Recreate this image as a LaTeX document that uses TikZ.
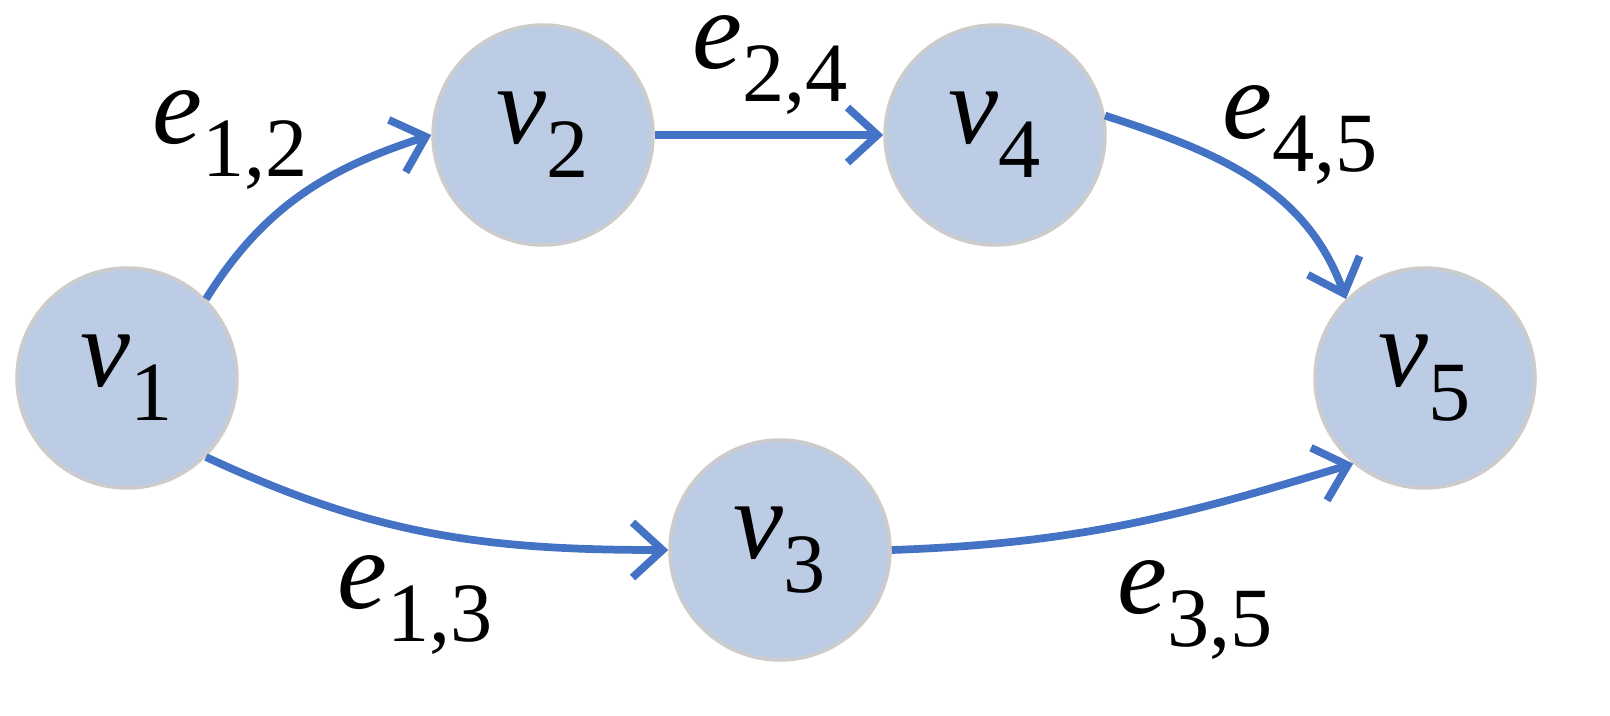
\documentclass[tikz,border=0pt]{standalone}
\usepackage{fontspec}
\setmainfont{Liberation Serif}
\usetikzlibrary{arrows.meta}
\definecolor{vfill}{RGB}{189,204,229}
\definecolor{vedge}{RGB}{68,114,196}
\newcommand\lbl[2]{\fontsize{32}{36}\selectfont\textit{#1}\raisebox{-0.3em}{\fontsize{24}{28}\selectfont #2}}
\begin{document}
\begin{tikzpicture}[vert/.style={draw=black!20,line width=1pt,fill=vfill,circle,minimum size=2.2cm,inner sep=0},
  arc/.style={draw=vedge,line width=2.2pt,-{Straight Barb[length=3mm,width=5.5mm]}},
  every node/.style={inner sep=0}]
\useasboundingbox (0,0) rectangle (16.1,7.15);
\node[vert] (v1) at (1.27,3.37) {\lbl{v}{1}};
\node[vert] (v2) at (5.43,5.80) {\lbl{v}{2}};
\node[vert] (v4) at (9.95,5.80) {\lbl{v}{4}};
\node[vert] (v5) at (14.25,3.37) {\lbl{v}{5}};
\node[vert] (v3) at (7.80,1.65) {\lbl{v}{3}};

\draw[arc] (v1.45) to[out=58,in=198] (v2.west);
\draw[arc] (v2.east) -- (v4.west);
\draw[arc] (v4.10) to[out=-18,in=110] (v5.135);
\draw[arc] (v1.-45) to[out=-25,in=180] (v3.west);
\draw[arc] (v3.east) to[out=2,in=197] (v5.230);

\node (e12) at (2.30,5.75) {\lbl{e}{1,2}};
\node (e24) at (7.70,6.50) {\lbl{e}{2,4}};
\node (e45) at (13.00,5.80) {\lbl{e}{4,5}};
\node (e13) at (4.15,1.10) {\lbl{e}{1,3}};
\node (e35) at (11.95,1.05) {\lbl{e}{3,5}};
\end{tikzpicture}
\end{document}
